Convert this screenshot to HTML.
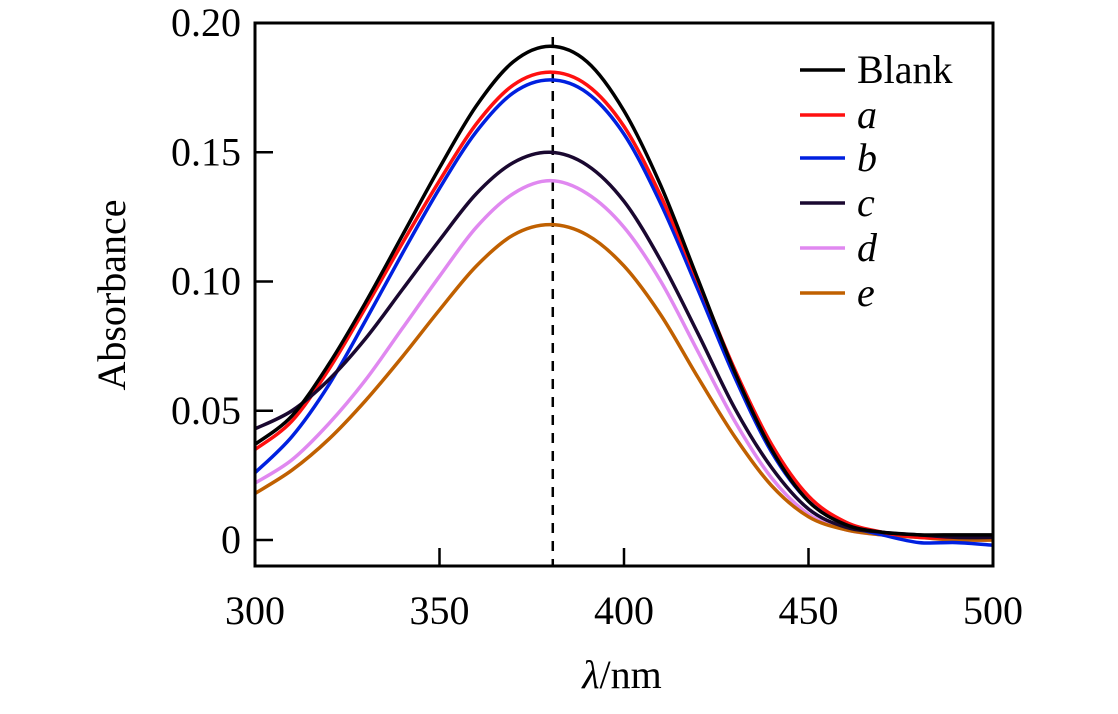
<!DOCTYPE html>
<html><head><meta charset="utf-8"><style>
body{margin:0;background:#fff;width:1118px;height:709px;overflow:hidden}
svg text{font-family:"Liberation Serif",serif;fill:#000}
</style></head><body>
<svg id="chart" width="1118" height="709" xmlns="http://www.w3.org/2000/svg"></svg>
<script>
const wavelengths=[300,310,320,330,340,350,360,370,380,390,400,410,420,430,440,450,460,470,480,490,500];
const blank=[.037,.048,.068,.092,.118,.144,.168,.185,.191,.185,.166,.137,.101,.065,.035,.015,.006,.003,.002,.002,.002];
const seriesA=[.035,.046,.066,.090,.115,.139,.161,.176,.181,.176,.160,.133,.100,.066,.037,.017,.007,.003,.001,.001,.001];
const seriesB=[.026,.040,.060,.085,.111,.136,.158,.173,.178,.173,.157,.130,.097,.063,.034,.015,.006,.002,-.001,-.001,-.002];
const seriesC=[.043,.050,.062,.078,.097,.116,.134,.146,.150,.145,.131,.108,.080,.051,.028,.012,.005,.003,.002,.001,.001];
const seriesD=[.022,.031,.045,.062,.082,.102,.121,.134,.139,.134,.121,.100,.073,.046,.024,.010,.004,.002,.001,.000,.000];
const seriesE=[.018,.027,.039,.054,.071,.089,.106,.118,.122,.118,.106,.087,.063,.040,.021,.009,.004,.002,.001,.000,.000];
const seriesNames=["Blank","a","b","c","d","e"];
const seriesColors=["#000000","#ff1010","#0020e0","#1a0830","#e088f0","#c06000"];
const xTicks=[300,350,400,450,500];
const yTicks=[0,0.05,0.10,0.15,0.20];
const yTickLabels=["0","0.05","0.10","0.15","0.20"];
const peakLambda=380.7;

const L=255,R=993,T=23,B=566;
const xs=v=>L+(v-300)/200*(R-L);
const ys=v=>540-v/0.2*(540-T);
const svg=document.getElementById('chart');
const NS="http://www.w3.org/2000/svg";
function mk(tag,attrs,parent){const e=document.createElementNS(NS,tag);for(const k in attrs)e.setAttribute(k,attrs[k]);(parent||svg).appendChild(e);return e;}

const clip=mk('clipPath',{id:'pc'});mk('rect',{x:L,y:T,width:R-L,height:B-T},clip);
const allSeries=[blank,seriesA,seriesB,seriesC,seriesD,seriesE];
const dl=mk('line',{x1:xs(peakLambda),x2:xs(peakLambda),y1:T+14,y2:B,stroke:'#000','stroke-width':2.5,'stroke-dasharray':'10,8'});


function path(vals){
  const p=vals.map((v,i)=>[xs(wavelengths[i]),ys(v)]);
  let d=`M${p[0][0]},${p[0][1]}`;
  for(let i=0;i<p.length-1;i++){
    const p0=p[Math.max(0,i-1)],p1=p[i],p2=p[i+1],p3=p[Math.min(p.length-1,i+2)];
    d+=` C${p1[0]+(p2[0]-p0[0])/6},${p1[1]+(p2[1]-p0[1])/6} ${p2[0]-(p3[0]-p1[0])/6},${p2[1]-(p3[1]-p1[1])/6} ${p2[0]},${p2[1]}`;
  }
  return d;
}
const order=[4,5,2,1,3,0];
order.forEach(i=>{
  const e=mk('path',{d:path(allSeries[i]),fill:'none',stroke:seriesColors[i],'stroke-width':3.5,'clip-path':'url(#pc)'});
  
  
});
const fr=mk('rect',{x:L,y:T,width:R-L,height:B-T,fill:'none',stroke:'#000','stroke-width':3});


xTicks.forEach(t=>{
  const l=mk('line',{x1:xs(t),x2:xs(t),y1:B,y2:B-18,stroke:'#000','stroke-width':2.5});
  
  
  const tx=mk('text',{x:xs(t),y:624,'font-size':40,'text-anchor':'middle'});tx.textContent=t;
  
  
});
yTicks.forEach((t,i)=>{
  const l=mk('line',{x1:L,x2:L+18,y1:ys(t),y2:ys(t),stroke:'#000','stroke-width':2.5});
  
  
  const tx=mk('text',{x:241,y:ys(t)+13,'font-size':40,'text-anchor':'end'});tx.textContent=yTickLabels[i];
  
  
});
const xl=mk('text',{x:622,y:688,'font-size':40,'text-anchor':'middle'});
xl.innerHTML='<tspan font-style="italic">λ</tspan>/nm';


const yl=mk('text',{x:0,y:0,'font-size':40,'text-anchor':'middle',transform:'translate(125,295) rotate(-90)'});
yl.textContent='Absorbance';


const legY=[70,115,158,203,248,293];
seriesNames.forEach((n,i)=>{
  const g=mk('g',{});
  
  
  mk('line',{x1:800,x2:845,y1:legY[i],y2:legY[i],stroke:seriesColors[i],'stroke-width':3.5},g);
  const t=mk('text',{x:857,y:legY[i]+13,'font-size':40,'font-style':i?'italic':'normal'},g);t.textContent=n;
});
</script>
</body></html>
